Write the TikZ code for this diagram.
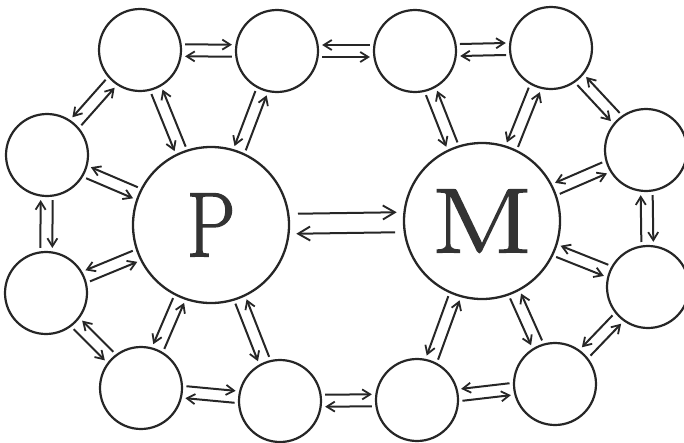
\documentclass[tikz,border=0pt]{standalone}
\usepackage{fontspec}
\usetikzlibrary{calc,arrows.meta}
\newfontfamily\hubfont{Latin Modern Roman}[FakeBold=1.6]

\tikzset{
  ring/.style={circle, draw=black!85, line width=2.2pt, inner sep=0pt, minimum size=82pt},
  hub/.style={circle, draw=black!85, line width=2.3pt, inner sep=0pt, minimum size=156pt,
              font=\hubfont\fontsize{92}{92}\selectfont, text=black!80},
  arr/.style={draw=black!85, line width=2pt, shorten <=3pt, shorten >=3pt,
              -{Straight Barb[length=8pt,width=10pt,line width=1.8pt]}},
  bigarr/.style={arr, shorten <=8pt, shorten >=6pt,
              -{Straight Barb[length=12pt,width=14pt,line width=1.9pt]}}
}

% one arrow from #2 to #3, moved sideways by #4; #5 = 90 (left of travel) or -90 (right)
\newcommand\oneway[5][arr]{%
  \path (#2) -- coordinate[pos=0] (aS) coordinate[pos=1] (aE) (#3);
  \draw[#1] ($(aS)!#4!#5:(aE)$) -- ($(aE)!#4!-#5:(aS)$);
}
% a pair of opposed arrows; each arrow keeps to its left (L) or right (R)
\newcommand\pairL[3][arr]{\oneway[#1]{#2}{#3}{6pt}{90}\oneway[#1]{#3}{#2}{6pt}{90}}
\newcommand\pairR[3][arr]{\oneway[#1]{#2}{#3}{6pt}{-90}\oneway[#1]{#3}{#2}{6pt}{-90}}

\begin{document}
\begin{tikzpicture}[x=1pt,y=-1pt]
  \useasboundingbox (0,0) rectangle (684,442);
  \clip (0,0) rectangle (684,442);

  % the two hubs
  \node[hub]  (P)  at (211,225) {\scalebox{0.84}[1]{P}};
  \node[hub]  (M)  at (482,221) {\scalebox{1.3}[1]{M}};

  % the twelve outer circles
  \node[ring] (T1) at (140,50)  {};
  \node[ring] (T2) at (277,51)  {};
  \node[ring] (T3) at (415,51)  {};
  \node[ring] (T4) at (551,48)  {};
  \node[ring] (L1) at (47,155)  {};
  \node[ring] (L2) at (46,293)  {};
  \node[ring] (R1) at (646,150) {};
  \node[ring] (R2) at (648,287) {};
  \node[ring] (B1) at (141,388) {};
  \node[ring] (B2) at (280,401) {};
  \node[ring] (B3) at (417,400) {};
  \node[ring] (B4) at (555,384) {};

  % outer ring of exchanges
  \pairL{T1}{T2}
  \pairR{T2}{T3}
  \pairL{T3}{T4}
  \pairR{T4}{R1}
  \pairL{R1}{R2}
  \pairR{R2}{B4}
  \pairR{B3}{B4}
  \pairL{B2}{B3}
  \pairL{B1}{B2}
  \pairR{L2}{B1}
  \pairL{L1}{L2}
  \pairR{T1}{L1}

  % spokes to P
  \pairR{L1}{P}
  \pairR{T1}{P}
  \pairR{T2}{P}
  \pairR{P}{L2}
  \pairR{P}{B1}
  \pairR{P}{B2}

  % spokes to M
  \pairR{T3}{M}
  \pairR{T4}{M}
  \pairR{M}{R1}
  \pairR{M}{R2}
  \pairR{M}{B3}
  \pairR{M}{B4}

  % P <-> M
  \oneway[bigarr]{P}{M}{10pt}{90}
  \oneway[bigarr]{M}{P}{10pt}{90}
\end{tikzpicture}
\end{document}
